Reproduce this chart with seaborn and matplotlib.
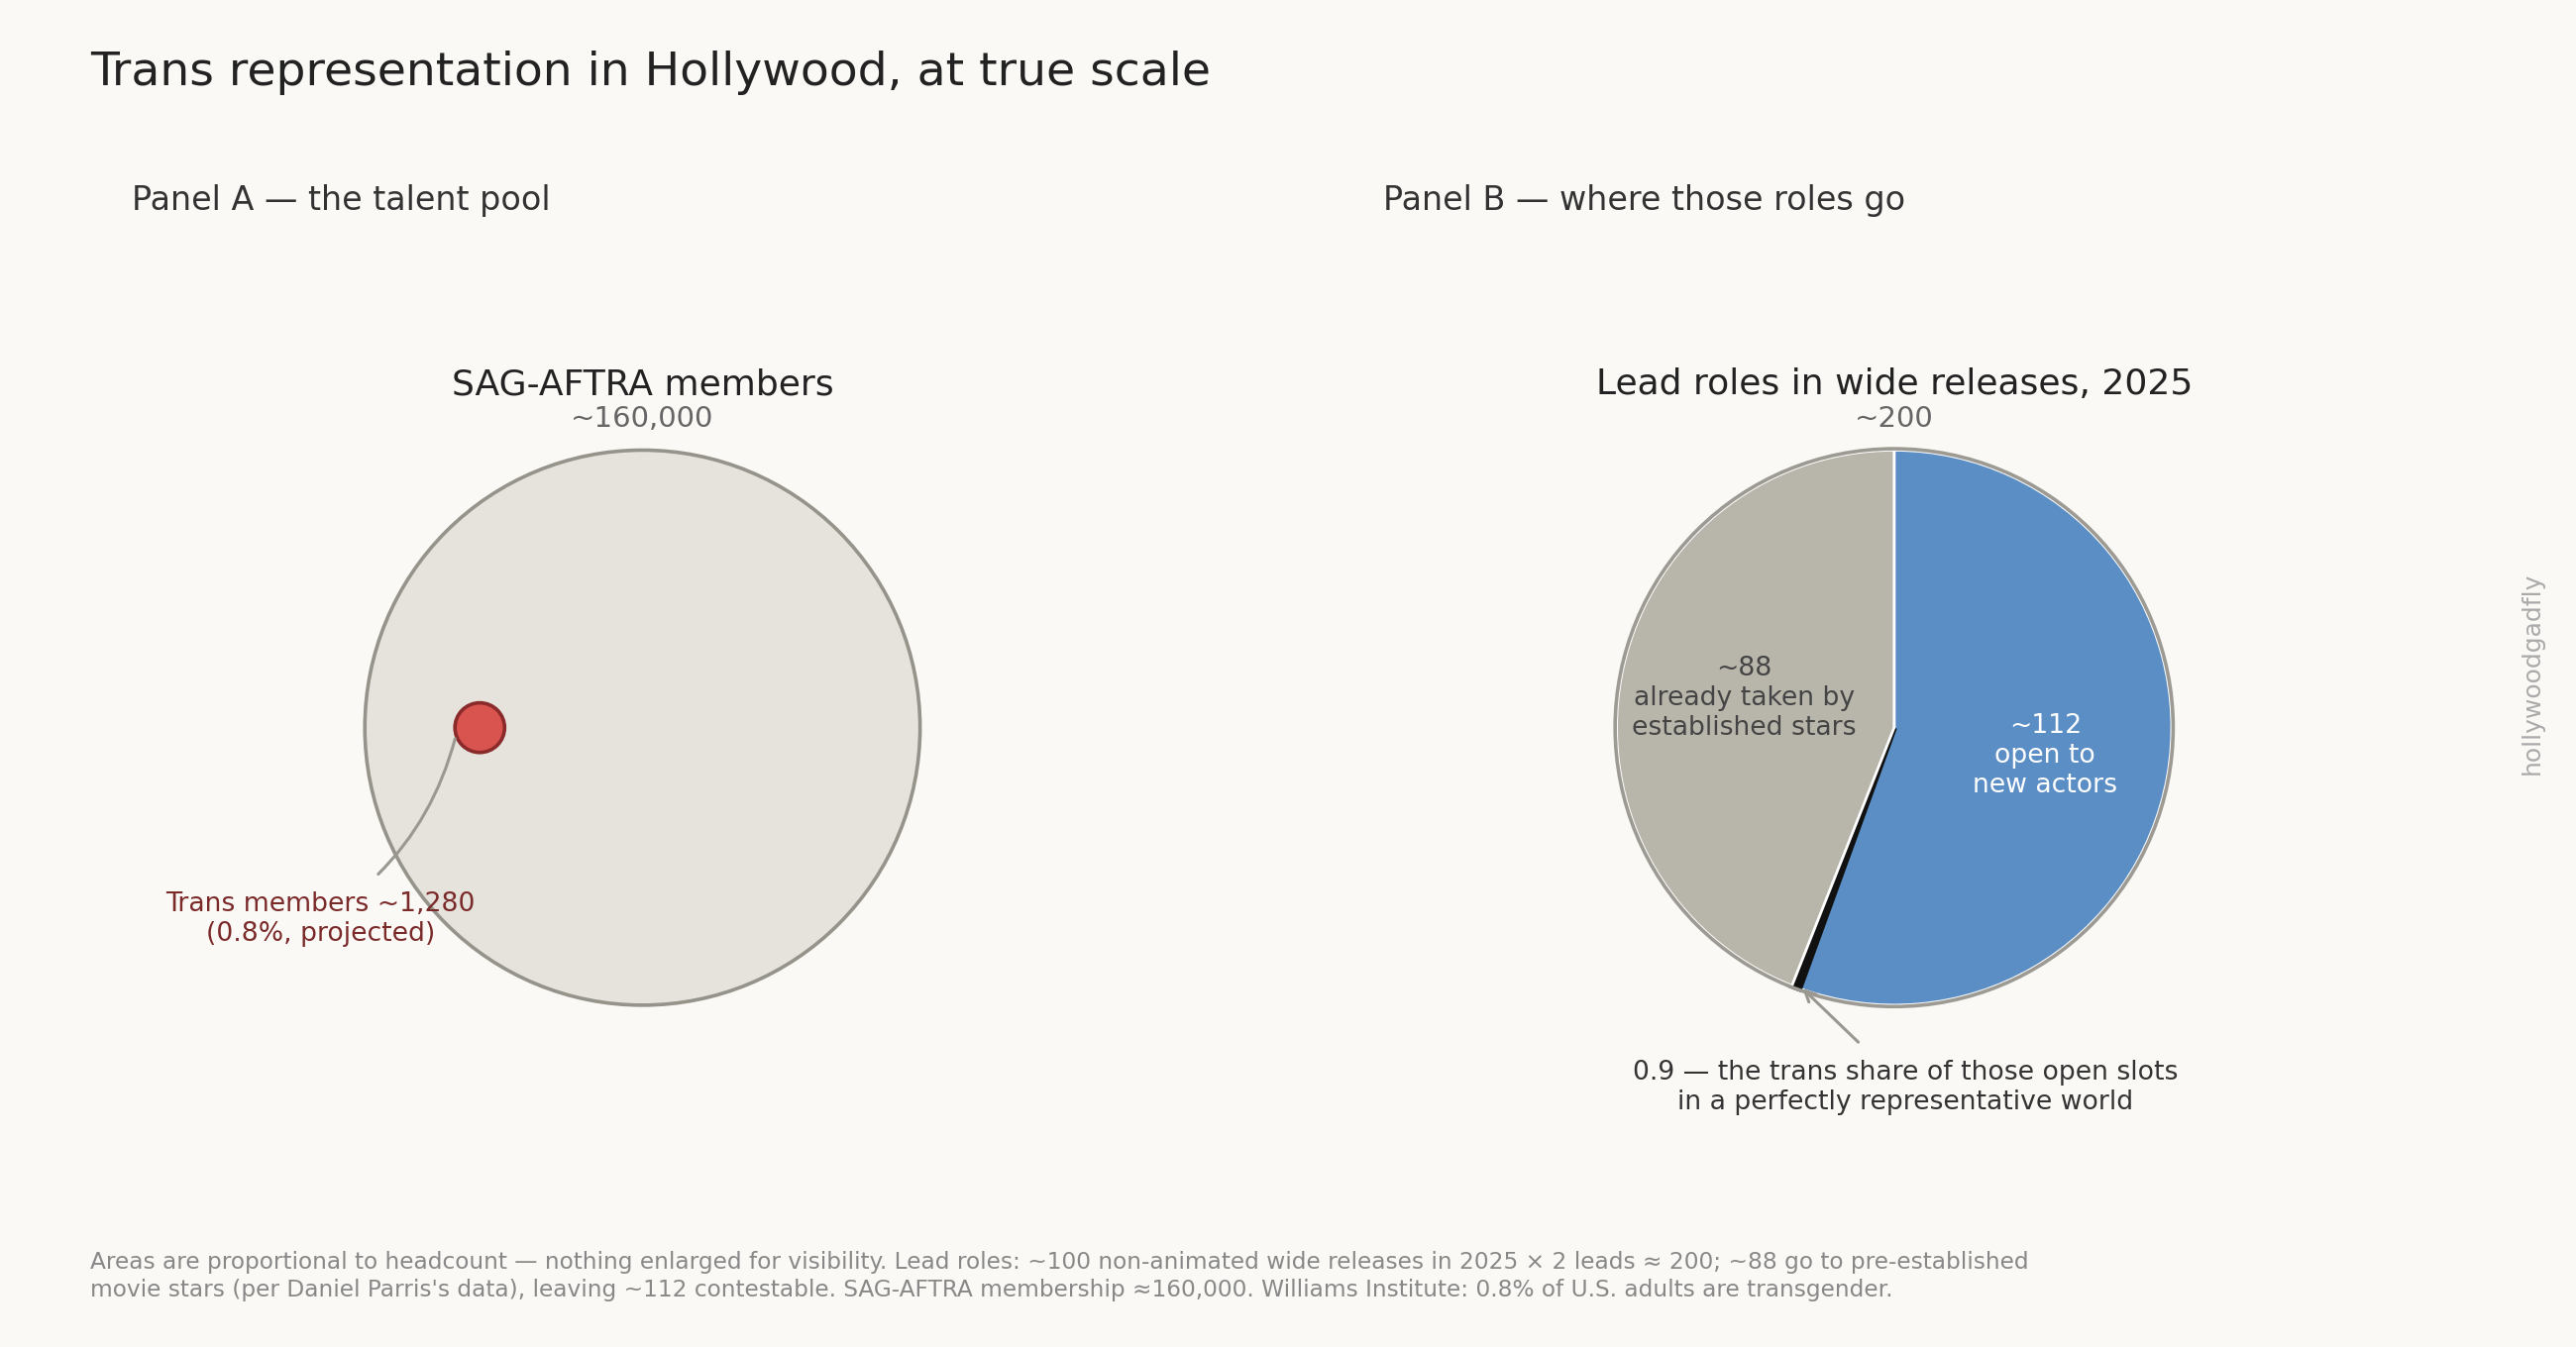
import numpy as np
import matplotlib
matplotlib.use("Agg")
import matplotlib.pyplot as plt
from matplotlib.patches import Circle
import seaborn as sns

# data
sag_members = 160000
trans_share = 0.008
trans_members = 1280
lead_roles = 200
star_roles = 88
open_roles = 112
trans_open = 0.9

pie_labels = ["open", "trans", "stars"]
pie_values = [open_roles - trans_open, trans_open, star_roles]
pie_colors = ["#5b8ec4", "#111111", "#b8b5aa"]

bg = "#faf9f5"
sns.set_theme(style="white")
plt.rcParams["font.family"] = ["DejaVu Sans"]
plt.rcParams["figure.facecolor"] = bg
plt.rcParams["axes.facecolor"] = bg

fig = plt.figure(figsize=(13, 6.8), dpi=200)

fig.text(0.035, 0.937, "Trans representation in Hollywood, at true scale",
         fontsize=17, color="#222222", va="baseline")
fig.text(0.051, 0.844, "Panel A \u2014 the talent pool", fontsize=12, color="#333333", va="baseline")
fig.text(0.537, 0.844, "Panel B \u2014 where those roles go", fontsize=12, color="#333333", va="baseline")

w, h = 0.2802, 0.5357
ax1 = fig.add_axes([0.2494 - w / 2, 0.4598 - h / 2, w, h])
ax2 = fig.add_axes([0.7353 - w / 2, 0.4598 - h / 2, w, h])
for ax in (ax1, ax2):
    ax.set_xlim(-1.3, 1.3)
    ax.set_ylim(-1.3, 1.3)
    ax.set_aspect("equal")
    ax.axis("off")

# Panel A: areas proportional to headcount
R = 1.0
r = R * np.sqrt(trans_members / sag_members)
ax1.add_patch(Circle((0, 0), R, facecolor="#e5e3dc", edgecolor="#95938a", lw=1.3))
ax1.add_patch(Circle((-0.586, 0), r, facecolor="#d9534f", edgecolor="#8b2a2a", lw=1.3, zorder=3))
ax1.text(0, 1.2, "SAG-AFTRA members", ha="center", va="baseline", fontsize=13, color="#222222")
ax1.text(0, 1.085, f"~{sag_members:,}", ha="center", va="baseline", fontsize=10.5, color="#666666")
ax1.annotate(f"Trans members ~{trans_members:,}\n({trans_share*100:.1f}%, projected)",
             xy=(-0.675, -0.04), xytext=(-1.16, -0.69),
             ha="center", va="center", fontsize=9.6, color="#7b2a2a",
             arrowprops=dict(arrowstyle="-", color="#9a9890", lw=1.1,
                             connectionstyle="arc3,rad=0.2", shrinkA=6, shrinkB=0))

# Panel B: pie of lead roles
wedges, _ = ax2.pie(pie_values, colors=pie_colors, startangle=90, counterclock=False, radius=R,
                    wedgeprops=dict(edgecolor="white", linewidth=1.0))
wedges[1].set_edgecolor("#111111")
wedges[1].set_linewidth(2.2)
ax2.add_patch(Circle((0, 0), R * 1.005, fill=False, edgecolor="#9c9a93", lw=1.3))
ax2.set_xlim(-1.3, 1.3)
ax2.set_ylim(-1.3, 1.3)
ax2.text(0, 1.2, "Lead roles in wide releases, 2025", ha="center", va="baseline", fontsize=13, color="#222222")
ax2.text(0, 1.085, f"~{lead_roles}", ha="center", va="baseline", fontsize=10.5, color="#666666")
ax2.text(-0.54, 0.107, f"~{star_roles}\nalready taken by\nestablished stars",
         ha="center", va="center", fontsize=9.6, color="#444444")
ax2.text(0.544, -0.10, f"~{open_roles}\nopen to\nnew actors",
         ha="center", va="center", fontsize=9.6, color="white")
ax2.annotate(f"{trans_open} \u2014 the trans share of those open slots\nin a perfectly representative world",
             xy=(-0.33, -0.94), xytext=(0.04, -1.296),
             ha="center", va="center", fontsize=9.6, color="#333333",
             arrowprops=dict(arrowstyle="->", color="#9a9890", lw=1.1, shrinkA=6, shrinkB=0))

fig.text(0.983, 0.5, "hollywoodgadfly", rotation=90, ha="center", va="center",
         fontsize=9, color="#aaaaaa")

fig.text(0.035, 0.034,
         "Areas are proportional to headcount \u2014 nothing enlarged for visibility. Lead roles: ~100 non-animated wide releases in 2025 \u00d7 2 leads \u2248 200; ~88 go to pre-established\n"
         "movie stars (per Daniel Parris's data), leaving ~112 contestable. SAG-AFTRA membership \u2248160,000. Williams Institute: 0.8% of U.S. adults are transgender.",
         fontsize=8.4, color="#888888", va="bottom", linespacing=1.25)

fig.savefig("out.png", dpi=200, facecolor=bg)
